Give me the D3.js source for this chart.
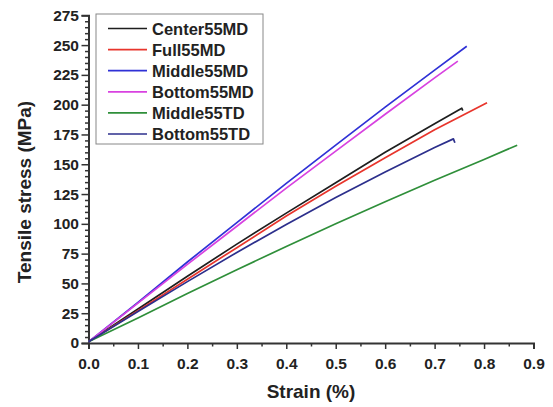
<!DOCTYPE html>
<html>
<head>
<meta charset="utf-8">
<script src="https://cdn.jsdelivr.net/npm/d3@7"></script>
<style>
  html, body { margin: 0; padding: 0; background: #fff; }
  svg { display: block; font-family: "Liberation Sans", Arial, sans-serif; }
</style>
</head>
<body>
<svg id="chart" width="553" height="407"></svg>
<script>
// Stress–strain curves, strain in %, stress in MPa
const seriesNames = ["Center55MD", "Full55MD", "Middle55MD", "Bottom55MD", "Middle55TD", "Bottom55TD"];
const seriesColors = ["#1e1e1e", "#e8352c", "#2f31d6", "#d842e0", "#2f8f3a", "#2c2f8c"];

const center55MD = [[0,1],[0.1,28.5],[0.2,56],[0.3,83],[0.4,109],[0.5,134.5],[0.6,160],[0.7,184],[0.755,197],[0.757,195]];
const full55MD   = [[0,1],[0.1,27],[0.2,53.5],[0.3,80],[0.4,106.5],[0.5,131.5],[0.6,155.5],[0.7,179],[0.806,201.7]];
const middle55MD = [[0,1],[0.1,34],[0.2,68],[0.3,101],[0.4,134],[0.5,166],[0.6,198],[0.7,229],[0.765,249]];
const bottom55MD = [[0,1],[0.1,33.5],[0.2,66],[0.3,98],[0.4,130],[0.5,161],[0.6,192],[0.7,222.5],[0.747,236.5]];
const middle55TD = [[0,1],[0.1,21],[0.2,41.5],[0.3,61.5],[0.4,81],[0.5,100],[0.6,118.5],[0.7,136.5],[0.8,154],[0.867,166]];
const bottom55TD = [[0,1],[0.1,26.5],[0.2,51.5],[0.3,76],[0.4,99.5],[0.5,122],[0.6,143.5],[0.7,164],[0.738,171.3],[0.741,168]];
const seriesData = [center55MD, full55MD, middle55MD, bottom55MD, middle55TD, bottom55TD];

const xTicks = [0, 0.1, 0.2, 0.3, 0.4, 0.5, 0.6, 0.7, 0.8, 0.9];
const yTicks = [0, 25, 50, 75, 100, 125, 150, 175, 200, 225, 250, 275];
const xTitle = "Strain (%)";
const yTitle = "Tensile stress (MPa)";

const svg = d3.select("#chart");
const plot = { left: 88.5, right: 533.5, top: 15.3, bottom: 343 };

const x = d3.scaleLinear().domain([0, 0.9]).range([plot.left, plot.right]);
const y = d3.scaleLinear().domain([0, 275]).range([plot.bottom, plot.top]);

const axisColor = "#333";
const labelColor = "#222";

// minor ticks
const xMinor = d3.range(0.05, 0.9, 0.1);
const yMinor = d3.range(0, 276, 5).filter(v => v % 25 !== 0);

svg.append("g").attr("transform", `translate(0,${plot.bottom})`)
  .call(d3.axisBottom(x).tickValues(xTicks).tickFormat(d3.format(".1f")).tickSize(6).tickPadding(8.5));
svg.append("g").attr("transform", `translate(0,${plot.bottom})`)
  .call(d3.axisBottom(x).tickValues(xMinor).tickFormat("").tickSize(3.5))
  .call(g => g.select(".domain").remove());

svg.append("g").attr("transform", `translate(${plot.left},0)`)
  .call(d3.axisLeft(y).tickValues(yTicks).tickFormat(d3.format("d")).tickSize(7).tickPadding(2.5));
svg.append("g").attr("transform", `translate(${plot.left},0)`)
  .call(d3.axisLeft(y).tickValues(yMinor).tickFormat("").tickSize(3.5))
  .call(g => g.select(".domain").remove());

svg.selectAll(".domain").attr("stroke", axisColor).attr("stroke-width", 2);
svg.selectAll(".tick line").attr("stroke", axisColor).attr("stroke-width", 1.5);
svg.selectAll(".tick text").attr("fill", labelColor)
  .style("font-size", "15.5px").style("font-weight", "bold")
  .style("font-family", "'Liberation Sans', Arial, sans-serif");

// curves
const line = d3.line().x(d => x(d[0])).y(d => y(d[1]));
svg.append("g").selectAll("path").data(seriesData).join("path")
  .attr("d", line)
  .attr("fill", "none")
  .attr("stroke", (d, i) => seriesColors[i])
  .attr("stroke-width", 1.7)
  .attr("stroke-linejoin", "round");

// axis titles
svg.append("text")
  .attr("x", 311).attr("y", 398)
  .attr("text-anchor", "middle")
  .attr("fill", labelColor)
  .style("font-size", "19px").style("font-weight", "bold")
  .text(xTitle);
svg.append("text")
  .attr("transform", "translate(31,192) rotate(-90)")
  .attr("text-anchor", "middle")
  .attr("fill", labelColor)
  .style("font-size", "19px").style("font-weight", "bold")
  .text(yTitle);

// legend
const legend = svg.append("g");
legend.append("rect")
  .attr("x", 96).attr("y", 14).attr("width", 167).attr("height", 130)
  .attr("fill", "#fff").attr("stroke", "#888").attr("stroke-width", 1);
const rowY = d3.scaleLinear().domain([0, 5]).range([28.5, 134]);
const rows = legend.selectAll("g.row").data(seriesNames).join("g")
  .attr("transform", (d, i) => `translate(0,${rowY(i)})`);
rows.append("line")
  .attr("x1", 108).attr("x2", 147).attr("y1", 0).attr("y2", 0)
  .attr("stroke", (d, i) => seriesColors[i]).attr("stroke-width", 1.7);
rows.append("text")
  .attr("x", 152).attr("y", 6)
  .attr("fill", labelColor)
  .style("font-size", "16.5px").style("font-weight", "bold")
  .text(d => d);
</script>
</body>
</html>
